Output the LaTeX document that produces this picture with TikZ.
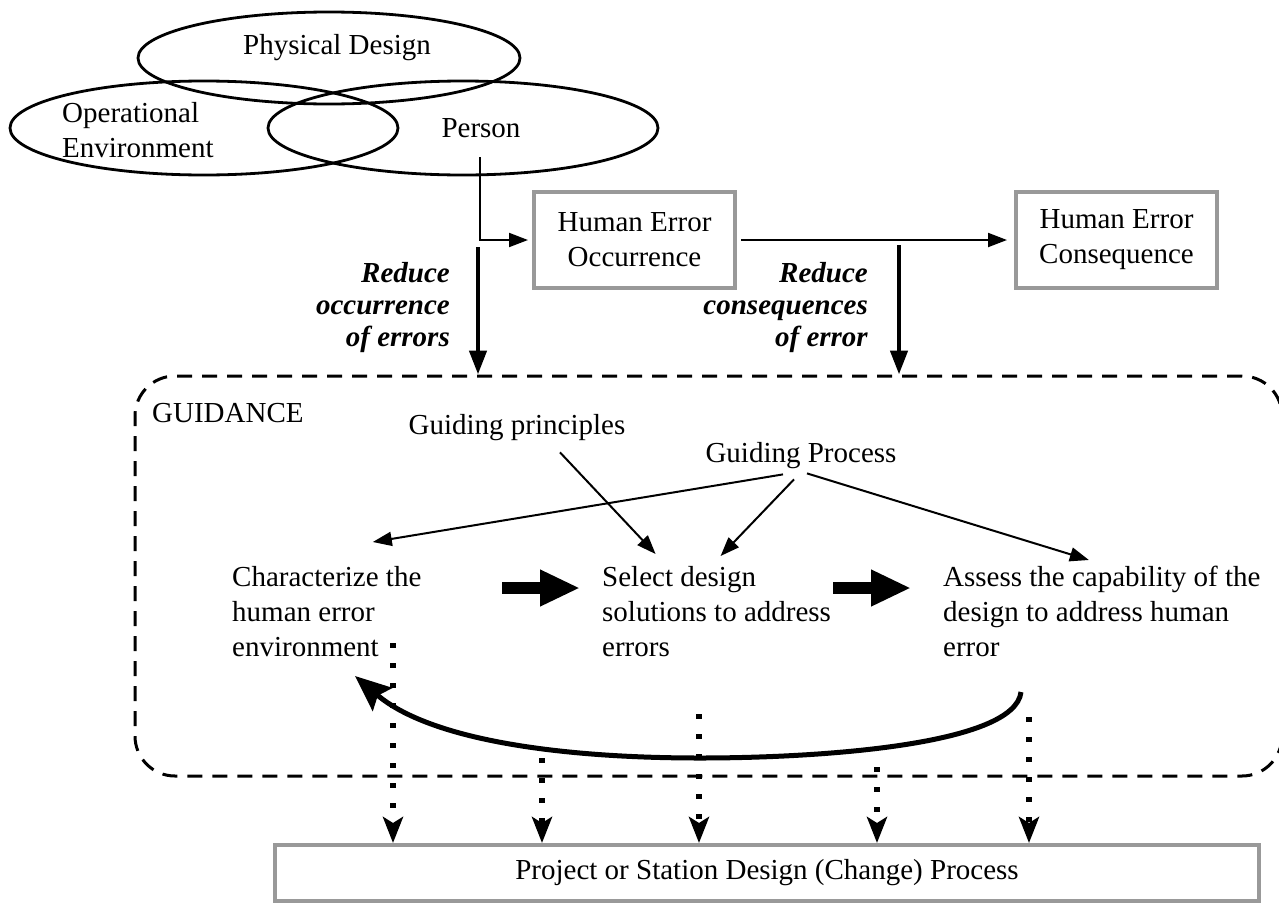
\documentclass[tikz,border=0pt]{standalone}
\usepackage{fontspec}
\setmainfont{Liberation Serif}
\usetikzlibrary{arrows.meta,shapes.geometric,positioning}

\begin{document}
\begin{tikzpicture}[x=1pt,y=-1pt,
  font=\fontsize{29}{35}\selectfont,
  blob/.style={draw, ellipse, line width=2.8pt, inner sep=0pt},
  errbox/.style={draw=gray!80, line width=4pt, align=center,
    minimum width=201pt, minimum height=96pt},
  txt/.style={align=left, inner sep=0pt},
  reducetag/.style={font=\fontsize{29}{32}\selectfont\bfseries\itshape,
    align=right, inner sep=0pt},
  link/.style={line width=2pt, -{Triangle[length=19pt,width=14pt]}},
  reduce/.style={line width=4.5pt, -{Triangle[length=24pt,width=17pt]}},
  bigarrow/.style={line width=12pt, -{Triangle[length=40pt,width=34pt]}},
  dotarrow/.style={line width=6pt, dash pattern=on 5pt off 15pt,
    -{Stealth[length=26pt,width=20pt,inset=6pt]}},
  feedback/.style={line width=5pt, -{Stealth[length=36pt,width=30pt,inset=6pt]}}]
\useasboundingbox (0,0) rectangle (1279,905);

% the three overlapping factors
\node[blob, minimum width=382pt, minimum height=92pt] (pdell) at (329,58) {};
\node[blob, minimum width=388pt, minimum height=94pt] (opell) at (204,128) {};
\node[blob, minimum width=390pt, minimum height=94pt] (peell) at (463,128) {};
\node[txt] (pdtext) at (337,48) {Physical Design};
\node[txt, anchor=west] (optext) at (62,130) {Operational\\Environment};
\node[txt] (petext) at (481,128) {Person};

% error boxes
\node[errbox] (occ) at (634.5,240) {Human Error\\Occurrence};
\node[errbox] (cons) at (1116.5,240) {Human Error\\Consequence};
\draw[link, shorten >=4pt] ([xshift=17pt,yshift=-29pt]peell.center) |- (occ.west);
\draw[link, shorten <=4pt, shorten >=7pt] (occ.east) -- (cons.west);

% guidance frame
\node[draw, dashed, dash pattern=on 15pt off 10pt, line width=3pt,
  rounded corners=40pt, minimum width=1147pt, minimum height=400pt]
  (guidance) at (708.5,576) {};
\node[txt, anchor=west] (guidtitle) at (152,413) {GUIDANCE};

\node[reducetag, anchor=north east] (redocc) at (450,262) {Reduce\\occurrence\\of errors};
\node[reducetag, anchor=north east] (redcons) at (868,262) {Reduce\\consequences\\of error};
\coordinate (r1) at (478,247);
\coordinate (r2) at (899,245);
\draw[reduce] (r1) -- (r1 |- guidance.north);
\draw[reduce] (r2) -- (r2 |- guidance.north);

% guiding inputs
\node[txt] (gprin) at (517,428) {Guiding principles};
\node[txt] (gproc) at (801,456) {Guiding Process};

% the three steps
\node[txt, anchor=north west] (charnode) at (232,566) {Characterize the\\human error\\environment};
\node[txt, anchor=north west] (selnode) at (602,566) {Select design\\solutions to address\\errors};
\node[txt, anchor=north west] (assnode) at (943,566) {Assess the capability of the\\design to address human\\error};

\draw[link] ([xshift=-18pt,yshift=-5pt]gproc.south) -- ([xshift=46pt,yshift=24pt]charnode.north);
\draw[link] ([xshift=-7pt,yshift=-10pt]gproc.south) -- ([xshift=4pt,yshift=10pt]selnode.north);
\draw[link] ([xshift=6pt,yshift=-4pt]gproc.south) -- ([xshift=-13pt,yshift=6pt]assnode.north);
\draw[link] ([xshift=43pt,yshift=-11pt]gprin.south) -- ([xshift=-61pt,yshift=12pt]selnode.north);

\coordinate (b1) at (502,588);
\coordinate (b2) at (833,588);
\draw[bigarrow, shorten >=22pt] (b1) -- (b1 -| selnode.west);
\draw[bigarrow, shorten >=32pt] (b2) -- (b2 -| assnode.west);

% feedback from assessment back to characterization
\coordinate (loopa) at (1021,692);
\coordinate (loopb) at (355,676);
\draw[feedback] (loopa) .. controls (1015,745) and (820,758) .. (700,758)
  .. controls (560,758) and (430,740) .. (loopb);

% design process
\node[draw=gray!80, line width=4pt, minimum width=984pt, minimum height=56pt]
  (project) at (767,873) {Project or Station Design (Change) Process};
\coordinate (d1) at (393,643);
\coordinate (d2) at (542,758);
\coordinate (d3) at (699,714);
\coordinate (d4) at (877,767);
\coordinate (d5) at (1029,717);
\foreach \d in {d1,d2,d3,d4,d5}
  \draw[dotarrow] (\d) -- (\d |- project.north);
\end{tikzpicture}
\end{document}
